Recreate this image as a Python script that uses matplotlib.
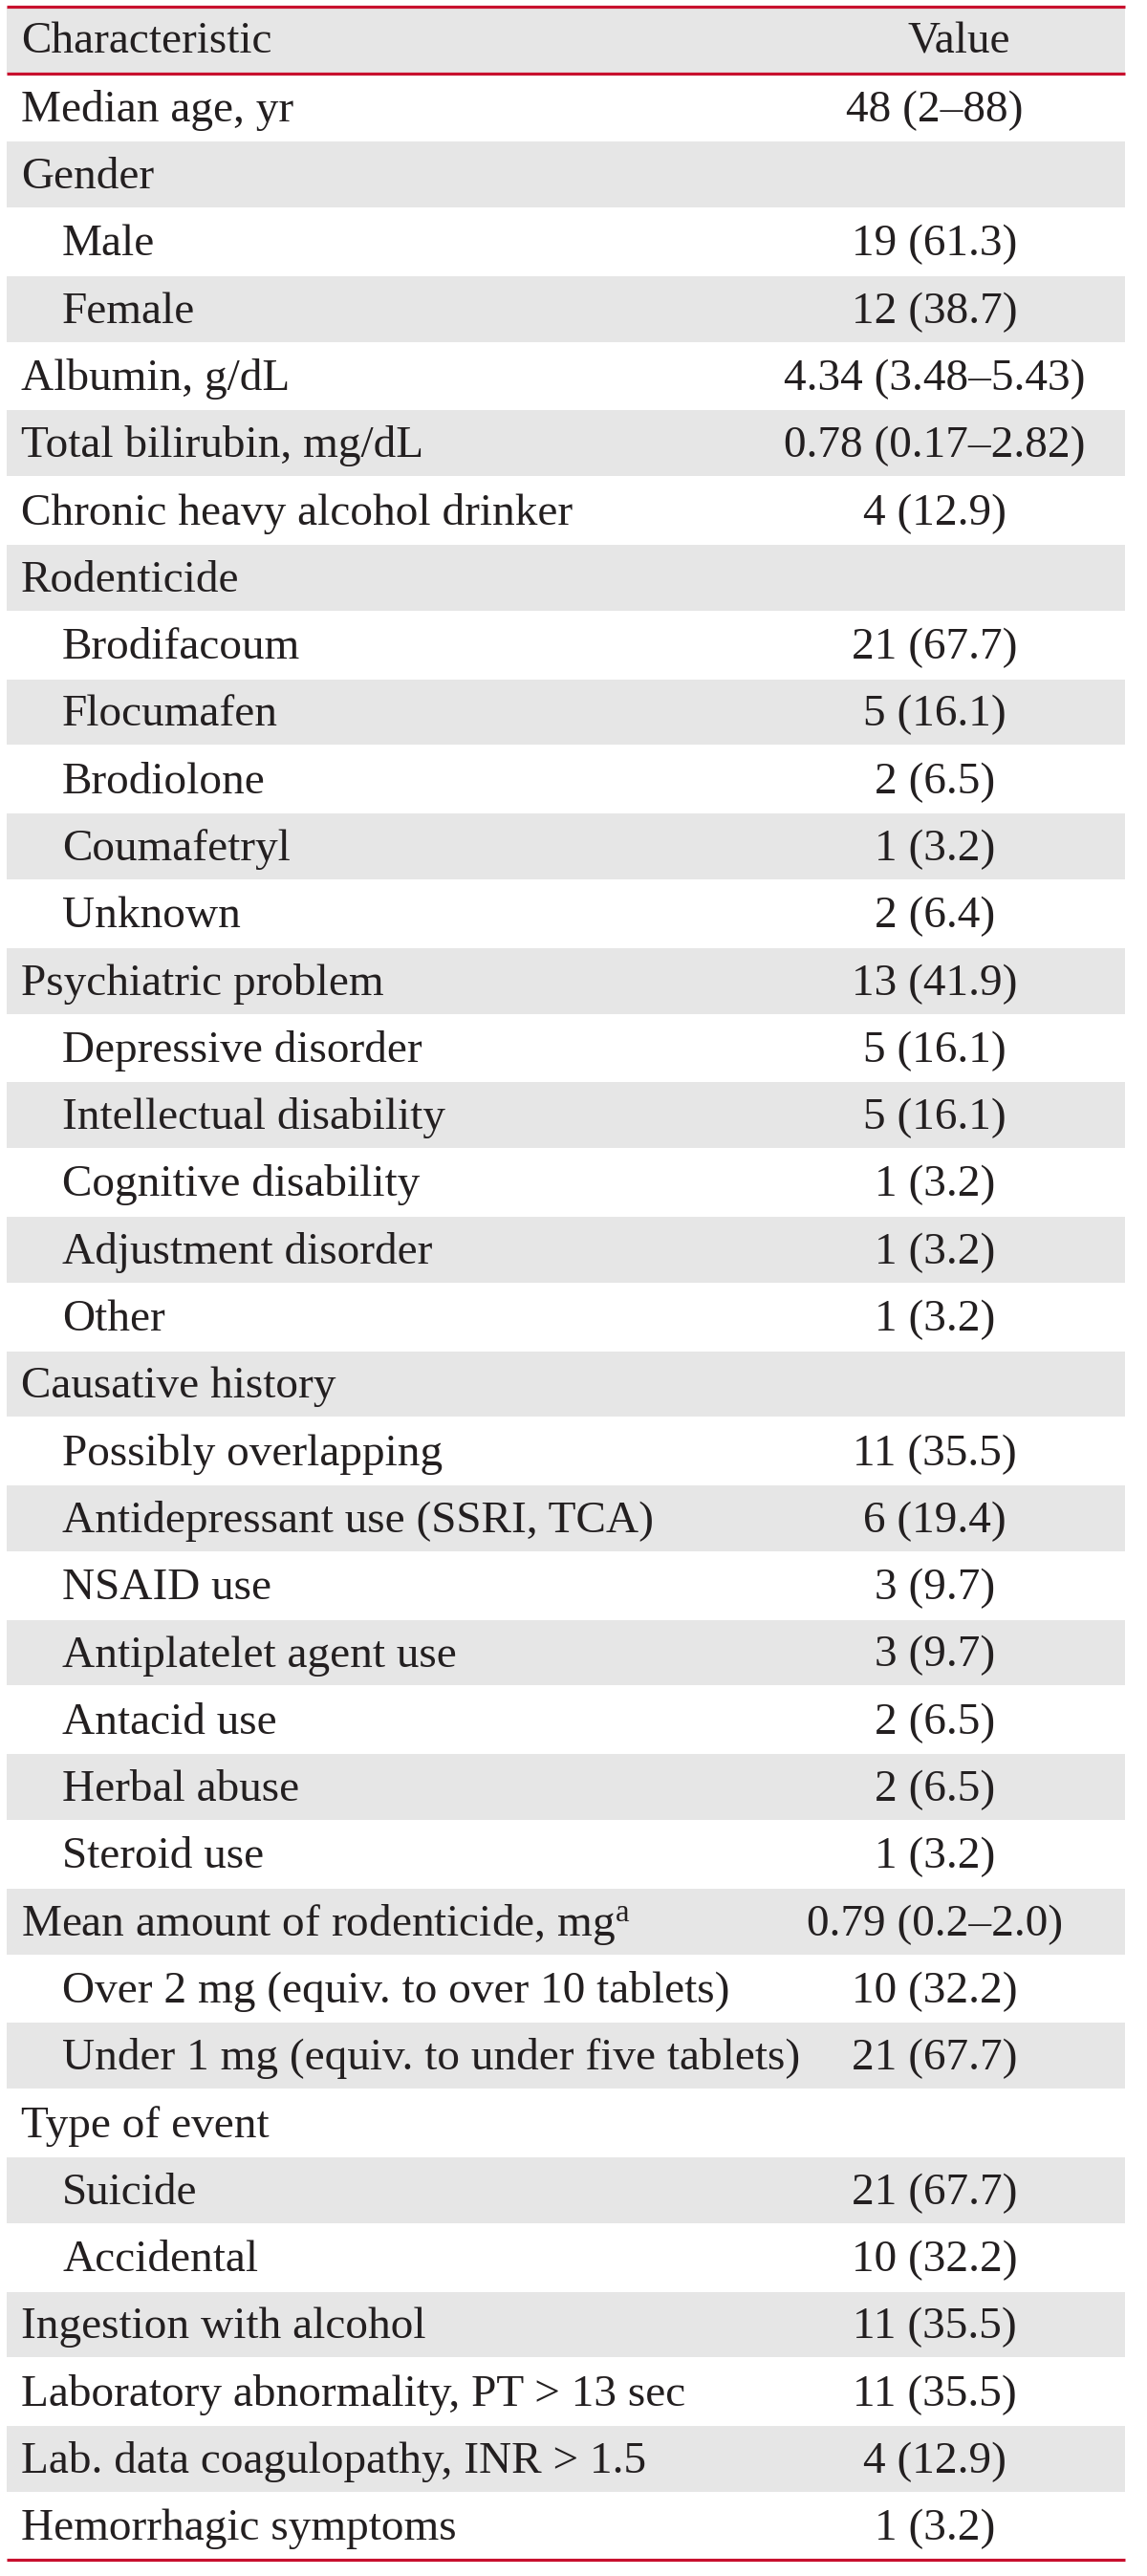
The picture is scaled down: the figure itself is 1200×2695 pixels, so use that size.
import matplotlib
matplotlib.use('Agg')
import matplotlib.pyplot as plt

# Tabuľka charakteristík pacientov
header = ['Characteristic', 'Value']

labels = [
    'Median age, yr', 'Gender', 'Male', 'Female', 'Albumin, g/dL',
    'Total bilirubin, mg/dL', 'Chronic heavy alcohol drinker', 'Rodenticide',
    'Brodifacoum', 'Flocumafen', 'Brodiolone', 'Coumafetryl', 'Unknown',
    'Psychiatric problem', 'Depressive disorder', 'Intellectual disability',
    'Cognitive disability', 'Adjustment disorder', 'Other', 'Causative history',
    'Possibly overlapping', 'Antidepressant use (SSRI, TCA)', 'NSAID use',
    'Antiplatelet agent use', 'Antacid use', 'Herbal abuse', 'Steroid use',
    'Mean amount of rodenticide, mg$^{\\mathrm{a}}$',
    'Over 2 mg (equiv. to over 10 tablets)',
    'Under 1 mg (equiv. to under five tablets)', 'Type of event', 'Suicide',
    'Accidental', 'Ingestion with alcohol', 'Laboratory abnormality, PT > 13 sec',
    'Lab. data coagulopathy, INR > 1.5', 'Hemorrhagic symptoms',
]

indent = [0, 0, 1, 1, 0, 0, 0, 0, 1, 1, 1, 1, 1, 0, 1, 1, 1, 1, 1, 0,
          1, 1, 1, 1, 1, 1, 1, 0, 1, 1, 0, 1, 1, 0, 0, 0, 0]

values = [
    '48 (2–88)', '', '19 (61.3)', '12 (38.7)', '4.34 (3.48–5.43)',
    '0.78 (0.17–2.82)', '4 (12.9)', '', '21 (67.7)', '5 (16.1)', '2 (6.5)',
    '1 (3.2)', '2 (6.4)', '13 (41.9)', '5 (16.1)', '5 (16.1)', '1 (3.2)',
    '1 (3.2)', '1 (3.2)', '', '11 (35.5)', '6 (19.4)', '3 (9.7)', '3 (9.7)',
    '2 (6.5)', '2 (6.5)', '1 (3.2)', '0.79 (0.2–2.0)', '10 (32.2)',
    '21 (67.7)', '', '21 (67.7)', '10 (32.2)', '11 (35.5)', '11 (35.5)',
    '4 (12.9)', '1 (3.2)',
]

plt.rcParams['font.family'] = ['Liberation Serif', 'DejaVu Serif']
plt.rcParams['mathtext.fontset'] = 'custom'
plt.rcParams['mathtext.rm'] = 'Liberation Serif'
plt.rcParams['mathtext.it'] = 'Liberation Serif:italic'

red = '#c8102e'
gray = '#e6e6e6'
txt = '#231f20'
fs = 34

top = 7
bottom = 2678
n_rows = len(labels) + 1
row_h = (bottom - top) / n_rows
x0, x1 = 7, 1177
val_x = 978

fig = plt.figure(figsize=(12, 26.95), dpi=100)
ax = fig.add_axes([0, 0, 1, 1])
ax.set_xlim(0, 1200)
ax.set_ylim(2695, 0)
ax.axis('off')

# Striedavé sivé riadky (hlavička + párne riadky)
shaded = [i for i in range(n_rows) if i % 2 == 0]
ax.barh([top + (i + 0.5) * row_h for i in shaded], x1 - x0, left=x0,
        height=row_h - 1.5, color=gray, linewidth=0)

# Hlavička
base = top + 0.69 * row_h
ax.text(22, base, header[0], fontsize=fs, color=txt, va='baseline', ha='left')
ax.text(1003, base, header[1], fontsize=fs, color=txt, va='baseline', ha='center')

# Riadky tabuľky
for i, (lab, lev, val) in enumerate(zip(labels, indent, values)):
    y = top + (i + 1) * row_h + 0.705 * row_h
    ax.text(22 + 43 * lev, y, lab, fontsize=fs, color=txt, va='baseline', ha='left')
    if val:
        ax.text(val_x, y, val, fontsize=fs, color=txt, va='baseline', ha='center')

# Červené linky
ax.hlines([top, top + row_h, bottom], x0, x1, colors=red, linewidth=2.3)

plt.savefig('out.png', dpi=100)
